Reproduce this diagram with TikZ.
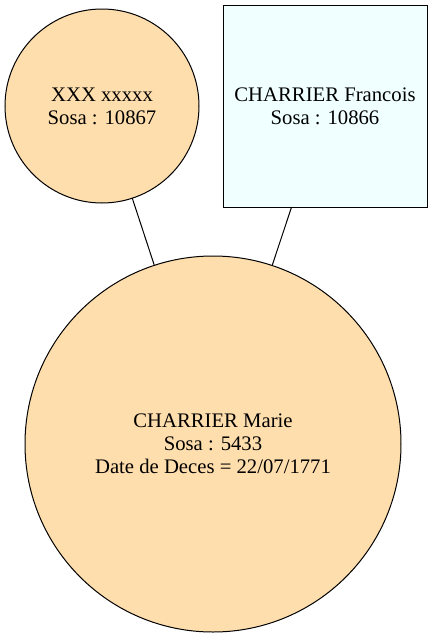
\documentclass[tikz,border=0pt]{standalone}
\usepackage{fontspec}
\setmainfont{Liberation Serif}
\usepackage{xcolor}
\usepackage{tikz}
\usetikzlibrary{positioning}
\definecolor{sosaorange}{RGB}{255,222,173}
\definecolor{sosaazure}{RGB}{240,255,255}
\tikzset{
  person/.style={draw=black, line width=1pt, align=center, outer sep=0pt,
    inner sep=2pt, font=\fontsize{20.7}{23.2}\selectfont},
  womancircle/.style={person, circle, fill=sosaorange},
  manbox/.style={person, rectangle, fill=sosaazure},
  link/.style={line width=1pt, color=black},
}
\begin{document}
\begin{tikzpicture}[x=1pt, y=-1pt]
  \useasboundingbox (0,0) rectangle (432,638);

  %% Parents
  \node[womancircle, minimum size=194pt] (mother) at (102,106)
    {XXX xxxxx\\Sosa : 10867};
  \node[manbox, minimum width=204pt, minimum height=202pt] (father) at (325,106)
    {CHARRIER Francois\\Sosa : 10866};

  %% Child
  \node[womancircle, minimum size=376pt] (marie) at (213,444)
    {CHARRIER Marie\\Sosa : 5433\\Date de Deces = 22/07/1771};

  %% Links
  \draw[link] (mother) -- (marie);
  \draw[link] (father) -- (marie);

\end{tikzpicture}
\end{document}
